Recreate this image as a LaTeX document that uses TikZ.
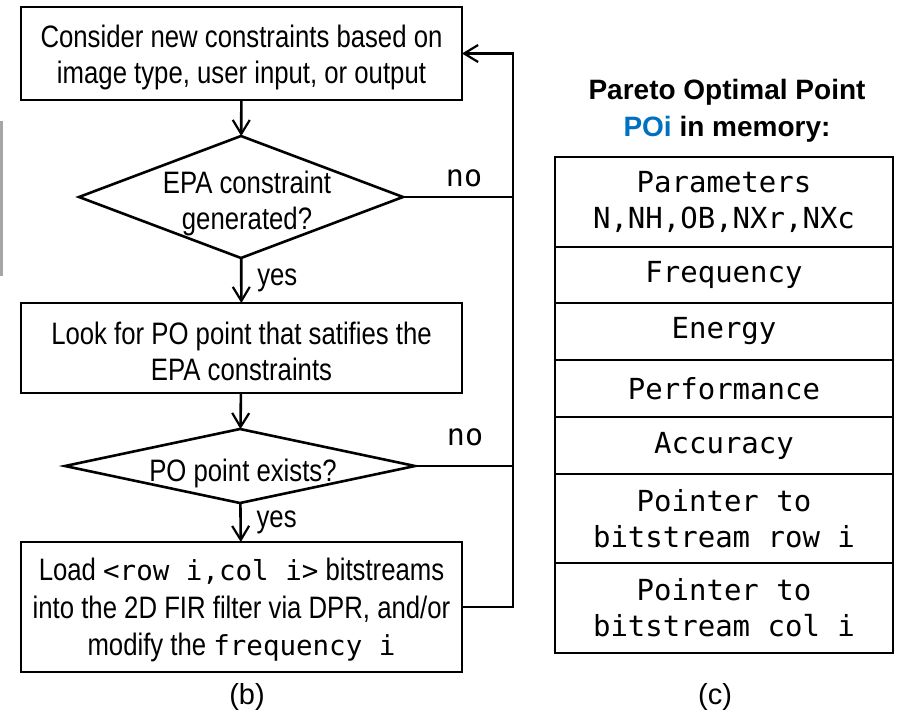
\documentclass[tikz,border=0pt]{standalone}
\usepackage{fontspec}
\setmainfont{Liberation Sans}
\newfontfamily\narrowsans[FakeStretch=0.83]{Liberation Sans}
\newfontfamily\codefont{DejaVu Sans Mono}
\usetikzlibrary{arrows.meta,shapes.geometric}
\definecolor{poiblue}{HTML}{0070C0}

\begin{document}
\begin{tikzpicture}[x=1pt,y=-1pt,
  every node/.style={inner sep=0pt,outer sep=0pt},
  wire/.style={line width=2.6pt},
  flow/.style={wire,-{Straight Barb[length=14pt,width=17pt,line width=2.2pt]}},
  stepbox/.style={draw,line width=2.6pt,minimum width=441pt},
  decision/.style={draw,diamond,line width=2.6pt},
  flowtext/.style={align=center,font=\narrowsans\fontsize{31}{36}\selectfont},
  answer/.style={font=\narrowsans\fontsize{31}{36}\selectfont},
  nolabel/.style={font=\codefont\fontsize{30}{34}\selectfont},
  caption/.style={font=\fontsize{29}{34}\selectfont},
  cell/.style={draw,line width=2.6pt,minimum width=338pt,align=center,
    font=\codefont\fontsize{29}{36}\selectfont},
]
\useasboundingbox (0,0) rectangle (907,717);

% thin grey strip on the left edge
\fill[gray!70] (0,121) rectangle (2.5,276);

% ---------- flowchart (b) ----------
\node[stepbox,minimum height=93pt] (consider) at (241.5,53.5) {};
\node[flowtext] (considertxt) at (241.5,57) {Consider new constraints based on\\image type, user input, or output};

\node[decision,minimum width=324pt,minimum height=122pt] (epa) at (241,197) {};
\node[flowtext] (epatxt) at (247,203) {EPA constraint\\generated?};

\node[stepbox,minimum height=90pt] (look) at (241.5,348) {};
\node[flowtext] (looktxt) at (241.5,351) {Look for PO point that satifies the\\EPA constraints};

\node[decision,minimum width=350pt,minimum height=74pt] (exists) at (240,466) {};
\node[flowtext] (existstxt) at (243,473) {PO point exists?};

\node[stepbox,minimum height=130pt] (load) at (241.5,607) {};
\node[flowtext,font=\narrowsans\fontsize{31}{37.5}\selectfont] (loadtxt) at (241.5,610)
  {Load {\codefont\fontsize{27.5}{37.5}\selectfont<row i,col i>} bitstreams\\
   into the 2D FIR filter via DPR, and/or\\
   modify the {\codefont\fontsize{27.5}{37.5}\selectfont frequency i}};

\coordinate (rail) at (513,0);

\draw[flow] (consider) -- (epa);
\draw[flow] (epa) -- node[answer,anchor=west,xshift=16pt] (yes1) {yes} (look);
\draw[flow] (look) -- (exists);
\draw[flow] (exists) -- node[answer,anchor=west,xshift=16pt] (yes2) {yes} (load);

\draw[wire] (epa.east) -- (epa.east -| rail);
\draw[wire] (exists.east) -- (exists.east -| rail);
\draw[flow] (load.east) -- (load.east -| rail) -- (consider.east -| rail) -- (consider.east);

\node[nolabel] (no1) at (464,178) {no};
\node[nolabel] (no2) at (465,437) {no};

\node[caption] (capb) at (247,697) {(b)};

% ---------- memory record (c) ----------
\node[align=center,font=\bfseries\fontsize{28}{37}\selectfont] (title) at (727,111)
  {Pareto Optimal Point\\{\color{poiblue}POi} in memory:};

\node[cell,minimum height=90pt] (params) at (724,202) {Parameters\\N,NH,OB,NXr,NXc};
\node[cell,minimum height=56pt] (freq) at (724,275) {Frequency};
\node[cell,minimum height=57pt] (energy) at (724,331.5) {Energy};
\node[cell,minimum height=57pt] (perf) at (724,388.5) {Performance};
\node[cell,minimum height=57pt] (acc) at (724,445.5) {Accuracy};
\node[cell,minimum height=89pt] (prow) at (724,518.5) {Pointer to\\bitstream row i};
\node[cell,minimum height=90pt] (pcol) at (724,608) {Pointer to\\bitstream col i};

\node[caption] (capc) at (715,697) {(c)};
\end{tikzpicture}
\end{document}
